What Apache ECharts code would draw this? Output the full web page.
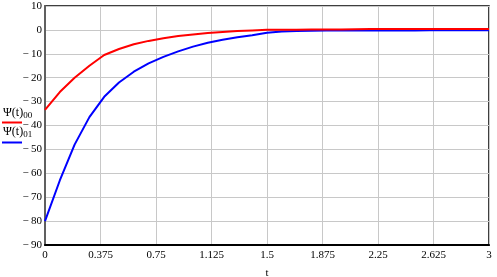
<!DOCTYPE html>
<html>
<head>
<meta charset="utf-8">
<script src="https://cdn.jsdelivr.net/npm/echarts@6/dist/echarts.min.js"></script>
<style>
html,body{margin:0;padding:0;background:#fff;}
#c{width:497px;height:277px;}
</style>
</head>
<body>
<div id="c"></div>
<script>
var tValues = [0,0.1,0.2,0.3,0.4,0.5,0.6,0.7,0.8,0.9,1.0,1.1,1.2,1.3,1.4,1.5,1.6,1.7,1.8,1.9,2.0,2.1,2.2,2.3,2.4,2.5,2.6,2.7,2.8,2.9,3.0];
var psi00 = [-33.5,-26,-20,-15,-10.5,-8,-6,-4.6,-3.5,-2.6,-1.9,-1.3,-0.9,-0.5,-0.2,0.1,0.1,0.1,0.2,0.2,0.2,0.3,0.4,0.4,0.4,0.4,0.4,0.4,0.4,0.4,0.4];
var psi01 = [-80,-63,-48,-36.5,-28,-22,-17.5,-14,-11.3,-9,-7,-5.4,-4.1,-3.1,-2.2,-1.2,-0.7,-0.5,-0.4,-0.3,-0.3,-0.2,-0.2,-0.2,-0.2,-0.3,-0.1,-0.1,-0.1,-0.1,-0.1];
var legendNames = ['00','01'];
var xTitle = 't';

function pairs(ys){ return tValues.map(function(t,i){ return [t, ys[i]]; }); }
var serif = '"Liberation Serif","DejaVu Serif",serif';

var chart = echarts.init(document.getElementById('c'), null, {renderer:'canvas'});
chart.setOption({
  animation:false,
  backgroundColor:'#fff',
  grid:{left:45,right:8,top:6,bottom:32,outerBoundsMode:'none',containLabel:false,show:true,borderColor:'#000',borderWidth:1.5,backgroundColor:'transparent'},
  xAxis:{
    type:'value',min:0,max:3,interval:0.375,
    name:xTitle,nameLocation:'middle',nameGap:23,
    nameTextStyle:{fontFamily:serif,fontSize:11,color:'#000'},
    axisLine:{show:true,onZero:false,lineStyle:{color:'#000',width:2}},
    axisTick:{show:false},
    axisLabel:{fontFamily:serif,fontSize:11,color:'#000',margin:5},
    splitLine:{show:true,lineStyle:{color:'#c8c8c8',width:1}}
  },
  yAxis:{
    type:'value',min:-90,max:10,interval:10,
    axisLine:{show:true,onZero:false,lineStyle:{color:'#606060',width:2}},
    axisTick:{show:false},
    axisLabel:{fontFamily:serif,fontSize:11,color:'#000',margin:3,
      formatter:function(v){ return v<0 ? '\u2212' + '\u2009' + Math.abs(v) : String(v); }},
    splitLine:{show:true,lineStyle:{color:'#c8c8c8',width:1}}
  },
  series:[
    {type:'line',data:pairs(psi00),showSymbol:false,lineStyle:{color:'#ff0000',width:2},itemStyle:{color:'#ff0000'},z:3},
    {type:'line',data:pairs(psi01),showSymbol:false,lineStyle:{color:'#0000ff',width:2},itemStyle:{color:'#0000ff'},z:2}
  ],
  graphic:[
    {type:'text',left:3,top:107,style:{text:'\u03A8(t){s|'+legendNames[0]+'}',fontFamily:serif,fontSize:12,fill:'#000',
      rich:{s:{fontFamily:serif,fontSize:9,padding:[6,0,0,0]}}}},
    {type:'line',shape:{x1:2,y1:122.5,x2:22,y2:122.5},style:{stroke:'#ff0000',lineWidth:2}},
    {type:'text',left:3,top:126,style:{text:'\u03A8(t){s|'+legendNames[1]+'}',fontFamily:serif,fontSize:12,fill:'#000',
      rich:{s:{fontFamily:serif,fontSize:9,padding:[6,0,0,0]}}}},
    {type:'line',shape:{x1:2,y1:142.5,x2:22,y2:142.5},style:{stroke:'#0000ff',lineWidth:2}}
  ]
});
</script>
</body>
</html>
